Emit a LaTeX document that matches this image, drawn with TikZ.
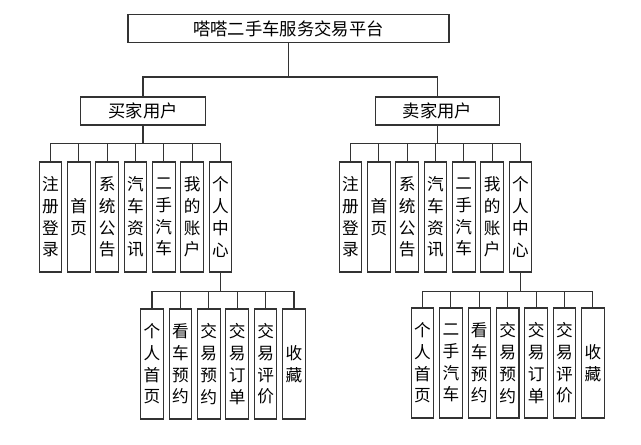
\documentclass[tikz,border=0pt]{standalone}
\usepackage{fontspec}
\newfontfamily\cjk{Noto Sans CJK SC}
\usetikzlibrary{positioning}

\begin{document}
\begin{tikzpicture}[x=0.75pt,y=-0.75pt]
	\tikzset{
		wire/.style={draw=black!80, line width=0.8pt},
		hbox/.style={draw=black!80, line width=0.8pt, inner sep=0pt, minimum height=21pt, font=\cjk\fontsize{13}{16}\selectfont},
		vbox/.style={draw=black!80, line width=0.8pt, inner sep=0pt, minimum width=16.9pt, minimum height=82.5pt,
			text width=13pt, align=center, font=\cjk\fontsize{12.5}{16.3}\selectfont}
	}
	\useasboundingbox (0,0) rectangle (641,445);
	% top of the tree
	\node[hbox, minimum width=240.75pt] (root) at (288.5,28.5) {嗒嗒二手车服务交易平台};
	\node[hbox, minimum width=93.5pt] (buyer) at (143,111) {买家用户};
	\node[hbox, minimum width=92.5pt] (seller) at (437.5,111) {卖家用户};
	\draw[wire] (root.south) -- ++(0,34) -| (buyer.north);
	\draw[wire] (root.south) -- ++(0,34) -| (seller.north);
	% second level
	\foreach \t [count=\i] in {{注\\册\\登\\录},{首\\页},{系\\统\\公\\告},{汽\\车\\资\\讯},{二\\手\\汽\\车},{我\\的\\账\\户},{个\\人\\中\\心}} {
		\node[vbox] (bU\i) at ({50.5+28.33*(\i-1)},217) {\t};
		\node[vbox] (sU\i) at ({350.5+28.33*(\i-1)},217) {\t};
		\draw[wire] (buyer.south) -- ++(0,18) -| (bU\i.north);
		\draw[wire] (seller.south) -- ++(0,18) -| (sU\i.north);
	}
	% personal centre of the buyer
	\foreach \t [count=\i] in {{个\\人\\首\\页},{看\\车\\预\\约},{交\\易\\预\\约},{交\\易\\订\\单},{交\\易\\评\\价},{收\\藏}} {
		\node[vbox] (bP\i) at ({152+28.4*(\i-1)},364) {\t};
		\draw[wire] (bU7.south) -- ++(0,19) -| (bP\i.north);
	}
	% personal centre of the seller
	\foreach \t [count=\i] in {{个\\人\\首\\页},{二\\手\\汽\\车},{看\\车\\预\\约},{交\\易\\预\\约},{交\\易\\订\\单},{交\\易\\评\\价},{收\\藏}} {
		\node[vbox] (sP\i) at ({422.5+28.4*(\i-1)},363) {\t};
		\draw[wire] (sU7.south) -- ++(0,19) -| (sP\i.north);
	}
\end{tikzpicture}
\end{document}
